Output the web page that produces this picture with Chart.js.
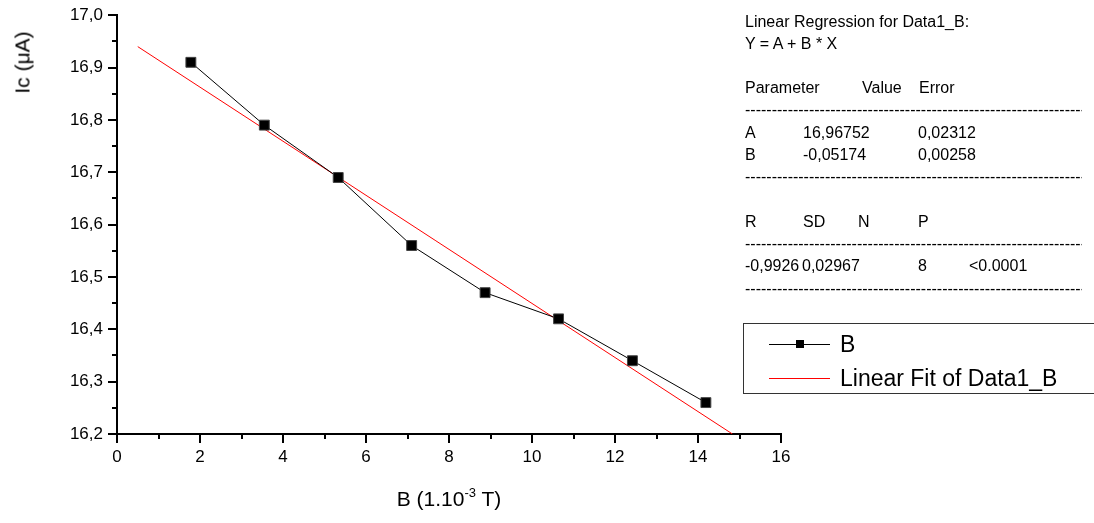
<!DOCTYPE html>
<html>
<head>
<meta charset="utf-8">
<script src="https://cdn.jsdelivr.net/npm/chart.js@4.4.0/dist/chart.umd.min.js"></script>
<style>
  body { margin: 0; background: #fff; font-family: "Liberation Sans", Arial, sans-serif; }
  #wrap { position: relative; width: 1094px; height: 523px; overflow: hidden; }
  .t { position: absolute; white-space: nowrap; line-height: 1; color: #000; }
  #legend { position: absolute; left: 743px; top: 323px; width: 400px; height: 69px; border: 1px solid #333; }
</style>
</head>
<body>
<div id="wrap">
  <canvas id="chart" width="1094" height="523"></canvas>
  <div id="legend"></div>
</div>
<script>
const B_FIELD = [1.78, 3.55, 5.33, 7.10, 8.87, 10.64, 12.42, 14.19];
const IC_VALUES = [16.91, 16.79, 16.69, 16.56, 16.47, 16.42, 16.34, 16.26];
const FIT_X = [0.5, 14.83];
const FIT_Y = [16.94, 16.2];

const X_MIN = 0, X_MAX = 16, X_STEP = 2;
const Y_MIN = 16.2, Y_MAX = 17.0, Y_STEP = 0.1;

const X_TITLE = 'B (1.10';
const X_TITLE_SUP = '-3';
const X_TITLE_END = ' T)';
const Y_TITLE = 'Ic (\u03bcA)';

const FIT_TITLE = 'Linear Regression for Data1_B:';
const FIT_EQUATION = 'Y = A + B * X';
const PARAM_HEAD = ['Parameter', 'Value', 'Error'];
const PARAM_ROWS = [
  ['A', '16,96752', '0,02312'],
  ['B', '-0,05174', '0,00258']
];
const STAT_HEAD = ['R', 'SD', 'N', 'P'];
const STAT_ROW = ['-0,9926', '0,02967', '8', '<0.0001'];

const FONT = '"Liberation Sans", Arial, sans-serif';
Chart.defaults.font.family = FONT;
Chart.defaults.color = '#000';

const wrap = document.getElementById('wrap');

function addText(str, x, yCenter, size, html) {
  var el = document.createElement('div');
  el.className = 't';
  el.style.left = x + 'px';
  el.style.top = (yCenter - size / 2) + 'px';
  el.style.fontSize = size + 'px';
  if (html) el.innerHTML = str; else el.textContent = str;
  wrap.appendChild(el);
  return el;
}

function dashes(y) {
  var el = addText('-'.repeat(70), 745, y, 16);
  el.style.width = '337px';
  el.style.overflow = 'hidden';
}

// minor ticks between the labelled ones
const minorTicks = {
  id: 'minorTicks',
  afterDraw(chart) {
    const ctx = chart.ctx;
    const xs = chart.scales.x, ys = chart.scales.y;
    ctx.save();
    ctx.strokeStyle = '#000';
    ctx.lineWidth = 2;
    ctx.beginPath();
    for (let v = X_MIN + X_STEP / 2; v < X_MAX; v += X_STEP) {
      const px = Math.round(xs.getPixelForValue(v));
      ctx.moveTo(px, ys.bottom);
      ctx.lineTo(px, ys.bottom + 5);
    }
    for (let i = 0; i < Math.round((Y_MAX - Y_MIN) / Y_STEP); i++) {
      const py = Math.round(ys.getPixelForValue(Y_MIN + (i + 0.5) * Y_STEP));
      ctx.moveTo(xs.left, py);
      ctx.lineTo(xs.left - 5, py);
    }
    ctx.stroke();
    ctx.restore();
  }
};

const chart = new Chart(document.getElementById('chart'), {
  type: 'scatter',
  data: {
    datasets: [
      {
        label: 'B',
        data: B_FIELD.map((x, i) => ({ x: x, y: IC_VALUES[i] })),
        showLine: true,
        borderColor: '#000',
        borderWidth: 1,
        pointStyle: 'rect',
        pointRadius: 7,
        pointBackgroundColor: '#000',
        pointBorderColor: '#444',
        pointBorderWidth: 1,
        order: 0
      },
      {
        label: 'Linear Fit of Data1_B',
        data: FIT_X.map((x, i) => ({ x: x, y: FIT_Y[i] })),
        showLine: true,
        borderColor: '#ff0000',
        borderWidth: 1,
        pointRadius: 0,
        order: 1
      }
    ]
  },
  options: {
    responsive: false,
    animation: false,
    devicePixelRatio: 1,
    layout: { padding: { left: 0, top: 15, right: 313, bottom: 0 } },
    plugins: { legend: { display: false }, tooltip: { enabled: false } },
    scales: {
      x: {
        type: 'linear',
        min: X_MIN,
        max: X_MAX,
        ticks: { stepSize: X_STEP, font: { size: 17 }, padding: 4, maxRotation: 0 },
        grid: { drawOnChartArea: false, tickLength: 9, tickWidth: 2, tickColor: '#000', lineWidth: 2 },
        border: { display: true, color: '#000', width: 2 },
        afterFit: function(s) { s.height = 89; }
      },
      y: {
        type: 'linear',
        min: Y_MIN,
        max: Y_MAX,
        ticks: {
          stepSize: Y_STEP,
          font: { size: 17 },
          padding: 5,
          callback: v => v.toFixed(1).replace('.', ',')
        },
        grid: { drawOnChartArea: false, tickLength: 9, tickWidth: 2, tickColor: '#000', lineWidth: 2 },
        border: { display: true, color: '#000', width: 2 },
        afterFit: function(s) { s.width = 117; }
      }
    }
  },
  plugins: [minorTicks]
});

// axis titles
var xt = addText(X_TITLE + '<sup style="font-size:13px;line-height:0;vertical-align:0;position:relative;top:-9px">' +
  X_TITLE_SUP + '</sup>' + X_TITLE_END, 449, 498, 21, true);
xt.style.transform = 'translateX(-50%)';
var yt = addText(Y_TITLE, 22, 62, 21);
yt.style.transform = 'translate(-50%, 0) rotate(-90deg)';

// regression report
addText(FIT_TITLE, 745, 22, 16);
addText(FIT_EQUATION, 745, 44, 16);
[745, 862, 919].forEach((x, i) => addText(PARAM_HEAD[i], x, 88, 16));
dashes(110);
PARAM_ROWS.forEach((row, r) => {
  [745, 803, 918].forEach((x, i) => addText(row[i], x, 133 + r * 22, 16));
});
dashes(177);
[745, 803, 858, 918].forEach((x, i) => addText(STAT_HEAD[i], x, 222, 16));
dashes(244);
[745, 802, 918, 969].forEach((x, i) => addText(STAT_ROW[i], x, 266, 16));
dashes(289);

// legend built from the datasets
var legend = document.getElementById('legend');
chart.data.datasets.forEach((ds, i) => {
  var yc = 20 + i * 34;
  var line = document.createElement('div');
  line.style.cssText = 'position:absolute;left:25px;width:61px;height:1px;top:' + yc + 'px;background:' + ds.borderColor;
  legend.appendChild(line);
  if (ds.pointRadius > 0) {
    var m = document.createElement('div');
    m.style.cssText = 'position:absolute;left:52px;top:' + (yc - 4) + 'px;width:8px;height:8px;background:' + ds.pointBackgroundColor;
    legend.appendChild(m);
  }
  var lab = document.createElement('div');
  lab.className = 't';
  lab.style.cssText += 'left:96px;font-size:23px;top:' + (yc - 11.5) + 'px';
  lab.textContent = ds.label;
  legend.appendChild(lab);
});
</script>
</body>
</html>
